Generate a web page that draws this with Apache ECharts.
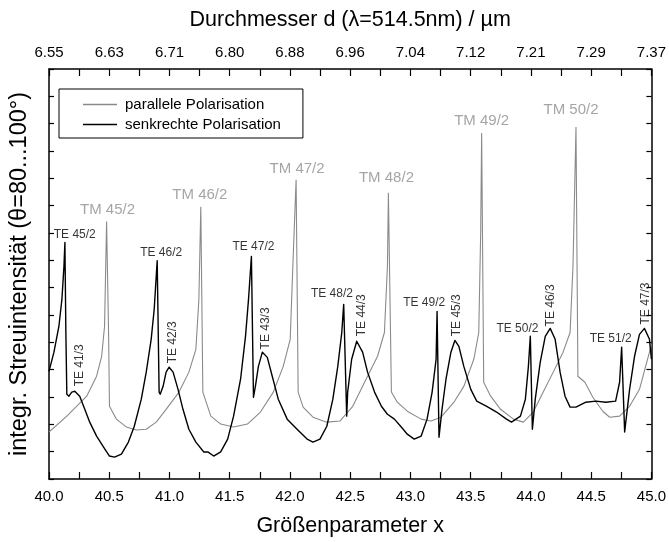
<!DOCTYPE html>
<html><head><meta charset="utf-8">
<script src="https://cdn.jsdelivr.net/npm/echarts@6/dist/echarts.min.js"></script>
<style>html,body{margin:0;padding:0;background:#fff}#c{width:669px;height:542px}</style>
</head><body><div id="c"></div>
<script>
// parallele Polarisation (grey)
const grayX = [40.000,40.148,40.313,40.395,40.437,40.461,40.478,40.494,40.502,40.560,40.643,40.725,40.807,40.890,40.972,41.079,41.161,41.219,41.244,41.260,41.277,41.343,41.425,41.532,41.647,41.755,41.862,41.944,42.002,42.026,42.051,42.068,42.109,42.191,42.306,42.414,42.521,42.644,42.727,42.784,42.809,42.817,42.842,42.891,42.974,43.089,43.171,43.254,43.361,43.443,43.526,43.567,43.583,43.591,43.608,43.666,43.748,43.855,43.937,44.020,44.102,44.185,44.267,44.325,44.349,44.374,44.390,44.448,44.514,44.596,44.654,44.736,44.819,44.901,44.984,45.000];
const grayY = [1.72,2.30,3.03,3.76,4.49,5.58,9.42,5.47,2.66,2.19,1.90,1.79,1.82,2.08,2.55,3.18,3.91,4.74,6.57,9.96,3.18,2.30,2.01,1.90,2.01,2.45,3.18,4.12,5.11,8.03,10.95,3.18,2.63,2.26,2.08,2.12,2.66,3.76,4.49,5.36,7.77,10.47,3.18,2.81,2.48,2.19,2.12,2.26,2.81,3.39,4.38,5.36,9.01,12.66,3.54,3.03,2.55,2.19,2.08,2.45,3.18,3.91,4.64,5.36,7.77,12.88,3.76,3.54,2.99,2.48,2.26,2.30,2.66,3.28,4.64,4.93];
// senkrechte Polarisation (black)
const blackX = [40.000,40.041,40.082,40.107,40.124,40.132,40.140,40.148,40.165,40.189,40.214,40.255,40.297,40.338,40.395,40.453,40.502,40.544,40.601,40.659,40.708,40.766,40.807,40.848,40.873,40.898,40.914,40.923,40.947,40.972,40.997,41.030,41.071,41.112,41.161,41.219,41.285,41.318,41.367,41.425,41.483,41.532,41.590,41.631,41.656,41.680,41.697,41.713,41.738,41.771,41.812,41.853,41.903,41.977,42.059,42.142,42.191,42.249,42.306,42.356,42.397,42.430,42.446,42.471,42.479,42.512,42.554,42.562,42.603,42.644,42.702,42.759,42.809,42.867,42.924,42.974,43.031,43.089,43.138,43.180,43.213,43.221,43.237,43.262,43.295,43.336,43.369,43.402,43.443,43.501,43.550,43.633,43.715,43.797,43.839,43.913,43.954,43.979,43.995,44.012,44.036,44.077,44.119,44.160,44.201,44.242,44.283,44.325,44.374,44.456,44.539,44.621,44.703,44.736,44.753,44.778,44.819,44.860,44.901,44.942,44.984,45.000];
const blackY = [3.94,4.64,5.58,6.57,7.77,8.65,5.36,3.10,3.03,3.18,3.21,3.03,2.55,2.08,1.57,1.17,0.84,0.80,0.91,1.35,1.93,2.92,3.91,5.11,6.20,7.99,3.18,3.10,3.39,3.91,4.09,3.91,3.28,2.55,1.82,1.35,0.99,0.99,0.84,0.99,1.46,2.30,3.65,5.22,6.57,8.14,2.99,3.39,4.12,4.64,4.45,3.76,2.92,2.19,1.82,1.46,1.35,1.46,1.93,2.92,4.12,5.36,6.39,2.30,3.18,4.38,5.04,5.11,4.64,3.91,3.18,2.66,2.37,2.19,1.90,1.64,1.46,1.57,2.19,3.18,4.38,6.13,1.53,2.55,3.65,4.64,5.07,4.85,4.12,3.28,2.85,2.66,2.45,2.19,2.08,2.30,2.92,4.12,5.22,1.82,2.92,4.27,5.22,5.51,5.11,3.91,3.03,2.63,2.63,2.81,2.85,2.81,2.85,3.54,4.82,1.72,3.28,4.49,5.29,5.51,5.11,4.38];
// bottom / top axis tick labels
const xTicks = ['40.0','40.5','41.0','41.5','42.0','42.5','43.0','43.5','44.0','44.5','45.0'];
const dTicks = ['6.55','6.63','6.71','6.80','6.88','6.96','7.04','7.12','7.21','7.29','7.37'];
// resonance annotations
const tmText = ['TM 45/2','TM 46/2','TM 47/2','TM 48/2','TM 49/2','TM 50/2'];
const tmX = [40.486,41.252,42.059,42.801,43.591,44.333];
const tmY = [9.85,10.40,11.35,11.02,13.10,13.50];
const te2Text = ['TE 45/2','TE 46/2','TE 47/2','TE 48/2','TE 49/2','TE 50/2','TE 51/2'];
const te2X = [40.214,40.931,41.697,42.348,43.114,43.888,44.662];
const te2Y = [8.94,8.28,8.50,6.79,6.46,5.51,5.15];
const te3Text = ['TE 41/3','TE 42/3','TE 43/3','TE 44/3','TE 45/3','TE 46/3','TE 47/3'];
const te3X = [40.255,41.030,41.796,42.595,43.386,44.168,44.951];
const te3Y = [4.16,5.00,5.51,5.99,5.99,6.35,6.42];

const FONT = 'Liberation Sans, Arial, sans-serif';
const zip = (a, b) => a.map((v, i) => [v, b[i]]);
const ann = (t, xs, ys) => t.map((s, i) => ({ name: s, value: [xs[i], ys[i]] }));

const chart = echarts.init(document.getElementById('c'), null, { renderer: 'canvas' });
const axisCommon = {
  type: 'value', min: 40, max: 45, interval: 0.5,
  axisLine: { show: true, onZero: false, lineStyle: { color: '#000', width: 1.5 } },
  axisTick: { show: true, inside: true, length: 7, lineStyle: { color: '#000', width: 1.2 } },
  minorTick: { show: true, splitNumber: 2, length: 7, lineStyle: { color: '#000', width: 1.2 } },
  splitLine: { show: false }
};
const yCommon = {
  type: 'value', min: 0, max: 15, interval: 1,
  axisLine: { show: true, onZero: false, lineStyle: { color: '#000', width: 1.5 } },
  axisTick: { show: true, inside: true, length: 5, lineStyle: { color: '#000', width: 1.2 } },
  axisLabel: { show: false }, splitLine: { show: false }
};
chart.setOption({
  animation: false,
  backgroundColor: '#fff',
  textStyle: { fontFamily: FONT },
  grid: { left: 47, right: 15, top: 69, bottom: 62 },
  legend: {
    left: 59, top: 89, orient: 'vertical',
    padding: [8, 22, 6, 24], itemGap: 5, itemWidth: 34, itemHeight: 1.5,
    borderColor: '#000', borderWidth: 1, icon: 'rect',
    data: ['parallele Polarisation', 'senkrechte Polarisation'],
    textStyle: { fontSize: 15, color: '#000', fontFamily: FONT, padding: [0, 0, 0, 3] }
  },
  xAxis: [
    Object.assign({}, axisCommon, {
      position: 'bottom',
      name: 'Größenparameter x', nameLocation: 'middle', nameGap: 36,
      nameTextStyle: { fontSize: 21.5, color: '#000', fontFamily: FONT },
      axisLabel: { fontSize: 15, color: '#000', margin: 10, fontFamily: FONT,
        formatter: v => xTicks[Math.round((v - 40) / 0.5)] }
    }),
    Object.assign({}, axisCommon, {
      position: 'top',
      name: 'Durchmesser d (λ=514.5nm) / µm', nameLocation: 'middle', nameGap: 38,
      nameTextStyle: { fontSize: 21.5, color: '#000', fontFamily: FONT },
      axisLabel: { fontSize: 15, color: '#000', margin: 9, fontFamily: FONT,
        formatter: v => dTicks[Math.round((v - 40) / 0.5)] }
    })
  ],
  yAxis: [
    Object.assign({}, yCommon, {
      position: 'left',
      name: 'integr. Streuintensität (θ=80...100°)', nameLocation: 'middle', nameGap: 17,
      nameTextStyle: { fontSize: 23.5, color: '#000', fontFamily: FONT }
    }),
    Object.assign({}, yCommon, { position: 'right' })
  ],
  series: [
    { name: 'parallele Polarisation', type: 'line', data: zip(grayX, grayY), symbol: 'none',
      lineStyle: { color: '#8a8a8a', width: 1.1 }, itemStyle: { color: '#8a8a8a' }, z: 2 },
    { name: 'senkrechte Polarisation', type: 'line', data: zip(blackX, blackY), symbol: 'none',
      lineStyle: { color: '#000', width: 1.4, join: 'round' }, itemStyle: { color: '#000' }, z: 3 },
    { type: 'scatter', data: ann(tmText, tmX, tmY), symbolSize: 0, silent: true, z: 5,
      label: { show: true, position: 'inside', formatter: p => p.name, color: '#8f8f8f', fontSize: 15, fontFamily: FONT } },
    { type: 'scatter', data: ann(te2Text, te2X, te2Y), symbolSize: 0, silent: true, z: 5,
      label: { show: true, position: 'inside', formatter: p => p.name, color: '#000', fontSize: 12, fontFamily: FONT } },
    { type: 'scatter', data: ann(te3Text, te3X, te3Y), symbolSize: 0, silent: true, z: 5,
      label: { show: true, position: 'inside', rotate: 90, formatter: p => p.name, color: '#000', fontSize: 12, fontFamily: FONT } }
  ]
});
</script></body></html>
